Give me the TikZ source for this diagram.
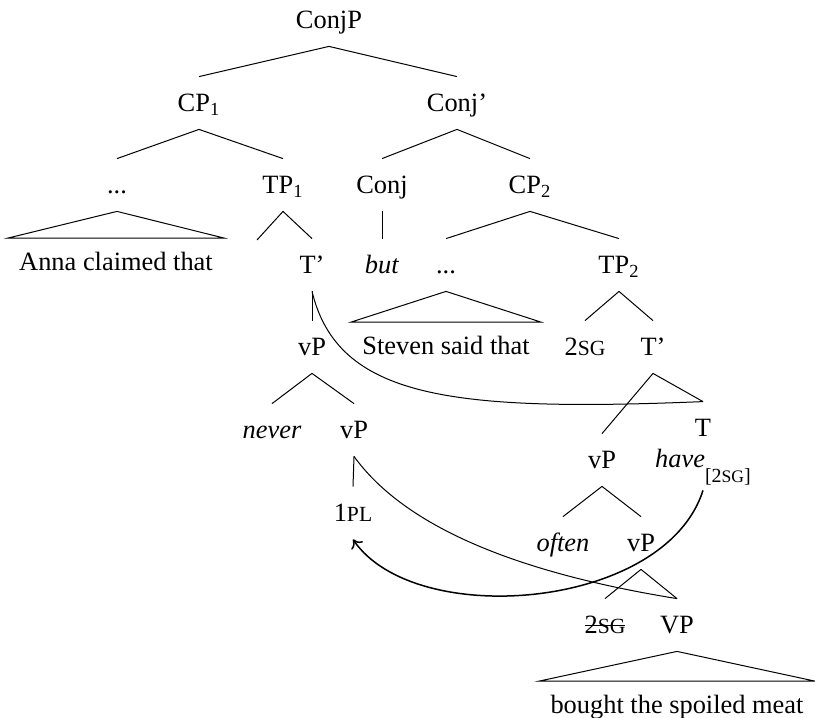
\documentclass[tikz,border=0pt]{standalone}
\usepackage{fontspec}
\setmainfont{Liberation Serif}
\usetikzlibrary{arrows.meta}
\newcommand{\fsc}[1]{{\fontsize{10.8}{12}\selectfont #1}}
\newcommand{\strk}[1]{\setbox0\hbox{#1}\rlap{\rule[4pt]{\wd0}{0.45pt}}\box0}
\tikzset{
  cat/.style={inner xsep=0pt,inner ysep=8.65pt,text height=8.7pt,text depth=0pt},
  roof/.style={inner xsep=5.5pt,inner ysep=7.4pt,text height=8.7pt,text depth=0pt},
  br/.style={line width=0.5pt},
  agr/.style={line width=0.75pt,-{To[length=4pt,width=7pt]}},
}

\begin{document}
\begin{tikzpicture}[x=0.5pt,y=-0.5pt,font=\fontsize{13.2}{15}\selectfont]
  \useasboundingbox (0,0) rectangle (815,718);
  % upper part
  \node[cat] (conjp) at (329,20) {ConjP};
  \node[cat] (cp1) at (199,103) {CP\textsubscript{1}};
  \node[cat] (conjbar) at (457,103) {Conj'};
  \node[cat] (dots1) at (117,185) {...};
  \node[cat] (tp1) at (283,185) {TP\textsubscript{1}};
  \node[cat] (conj) at (382,185) {Conj};
  \node[cat] (cp2) at (530,185) {CP\textsubscript{2}};
  \node[roof] (anna) at (116,262) {Anna claimed that};
  \node[cat] (tbar1) at (312,265) {T'};
  \node[cat] (but) at (382,265) {\textit{but}};
  \node[cat] (dots2) at (446,265) {...};
  \node[cat] (tp2) at (619,265) {TP\textsubscript{2}};
  \coordinate (spec1) at (257,240);
  % middle part
  \node[cat] (vp1) at (312,347) {vP};
  \node[roof] (steven) at (446,346) {Steven said that};
  \node[cat] (sg1) at (585,347) {2\fsc{SG}};
  \node[cat] (tbar2) at (653,347) {T'};
  \node[cat] (never) at (272,430) {\textit{never}};
  \node[cat] (vp2) at (354,430) {vP};
  \node[cat] (tnode) at (703,428) {T};
  \node[cat] (vp3) at (602,460) {vP};
  \node[cat] (have) at (703,459) {\textit{have}\raisebox{-7.5pt}{\fontsize{10}{12}\selectfont[2{\fontsize{8.8}{10}\selectfont SG}]}};
  % lower part
  \node[cat] (pl1) at (353,513) {1\fsc{PL}};
  \node[cat] (often) at (563,543) {\textit{often}};
  \node[cat] (vp4) at (641,543) {vP};
  \node[cat] (sg2) at (605,625) {\strk{2\fsc{SG}}};
  \node[cat] (vp5) at (677,625) {VP};
  \node[roof] (bought) at (677,705) {bought the spoiled meat};

  \foreach \p/\c in {conjp/cp1,conjp/conjbar,cp1/dots1,cp1/tp1,conjbar/conj,conjbar/cp2,
      tp1/tbar1,conj/but,cp2/dots2,cp2/tp2,tbar1/vp1,tp2/sg1,tp2/tbar2,vp1/never,vp1/vp2,
      tbar2/vp3,tbar2/tnode,vp2/pl1,vp3/often,vp3/vp4,vp4/sg2,vp4/vp5}
    \draw[br] (\p.south) -- (\c.north);
  \draw[br] (tp1.south) -- (spec1);
  \foreach \p/\c in {dots1/anna,dots2/steven,vp5/bought}
    \draw[br] (\p.south) -- (\c.north west) -- (\c.north east) -- cycle;

  % shared nodes and agreement
  \draw[br] (tbar1.south) .. controls (338,398) and (450,412) .. (tnode.north);
  \draw[br] (vp2.south) .. controls (400,520) and (500,570) .. (vp5.north);
  \draw[agr] ([yshift=-2.5pt]have.south) .. controls (665,610) and (415,630) .. (pl1.south);
\end{tikzpicture}
\end{document}
